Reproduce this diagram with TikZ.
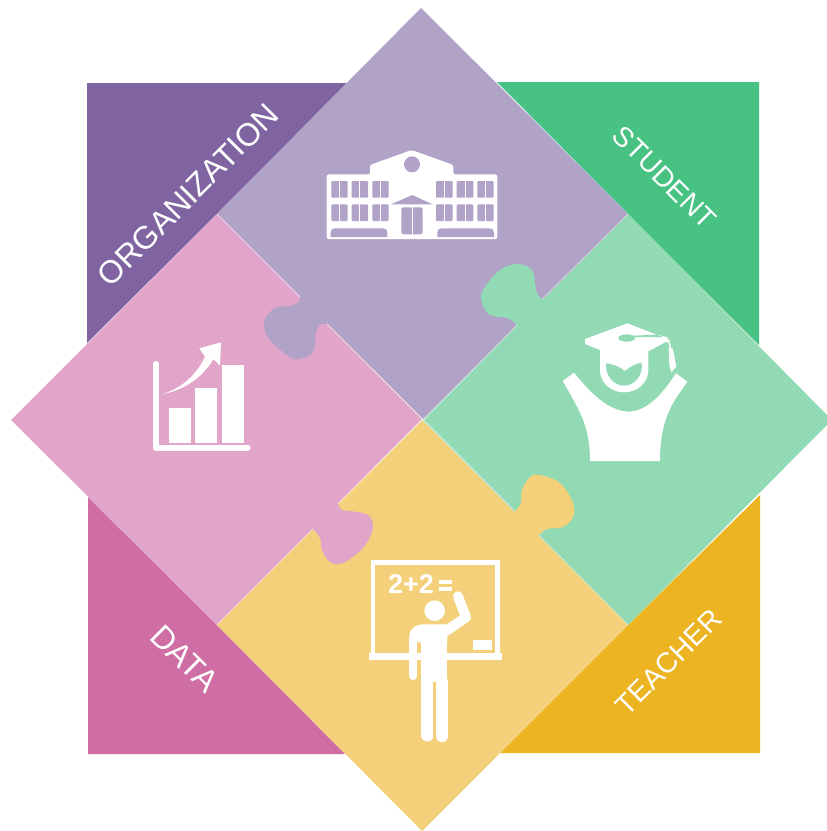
\documentclass[tikz,border=0pt]{standalone}
\usepackage{fontspec}
\setmainfont{Liberation Sans}
\definecolor{orgD}{HTML}{8064A2}
\definecolor{orgL}{HTML}{B1A2C8}
\definecolor{stuD}{HTML}{47C283}
\definecolor{stuL}{HTML}{91DAB4}
\definecolor{datD}{HTML}{CF6EA4}
\definecolor{datL}{HTML}{E0A5C8}
\definecolor{teaD}{HTML}{EDB421}
\definecolor{teaL}{HTML}{F4D07A}
\tikzset{
  lab/.style={text=white,inner sep=0pt},
  seam/.style={draw=white,line width=0.4pt,opacity=0.6},
  zoomed/.style={x=0.33333pt,y=-0.33333pt},
}
\begin{document}
\begin{tikzpicture}[x=1pt,y=-1pt]
\clip (0,0) rectangle (827,831);
\fill[white] (0,0) rectangle (827,831);
% corner triangles
\fill[orgD] (87,83) -- (347,83) -- (217,214) -- (87,343) -- cycle;
\fill[stuD] (497,82) -- (759,82) -- (759,345) -- (628,214) -- cycle;
\fill[teaD] (760,495) -- (760,753) -- (500,753) -- (628,625) -- cycle;
\fill[datD] (88,497) -- (217,625) -- (345,754) -- (88,754) -- cycle;
% puzzle diamonds
\fill[orgL] (421,8) -- (628,214) -- (423,419) -- (217,214) -- cycle;
\fill[datL] (217,214) -- (422,419) -- (217,625) -- (11,420) -- cycle;
\fill[stuL] (628,214) -- (832,420) -- (628,625) -- (423,420) -- cycle;
\fill[teaL] (422,420) -- (628,625) -- (422,831) -- (217,625) -- cycle;
% seams
\draw[seam] (217,214) -- (300,297) (327,324) -- (421,418);
\draw[seam] (628,214) -- (542,299) (517,325) -- (424,420);
\draw[seam] (424,420) -- (515,511) (539,535) -- (628,625);
\draw[seam] (422,420) -- (338,504) (313,529) -- (217,625);
% tabs, closed through a point inside the owning piece
\fill[orgL] plot[smooth,tension=0.6] coordinates {(300,297) (299,302) (290,306) (275,308) (264,322) (270,340) (290,357) (300,359) (313,352) (316,333) (320,325) (327,324)} -- (335,300) -- cycle;
\fill[stuL] plot[smooth,tension=0.6] coordinates {(542,299) (537,293) (535,283) (532,270) (518,264) (500,270) (483,290) (482,303) (490,315) (507,318) (517,325)} -- (540,330) -- cycle;
\fill[teaL] plot[smooth,tension=0.6] coordinates {(515,511) (521,503) (522,490) (530,477) (540,475) (560,483) (573,503) (573,517) (563,527) (547,529) (539,535)} -- (510,535) -- cycle;
\fill[datL] plot[smooth,tension=0.6] coordinates {(338,504) (342,510) (350,511) (368,515) (373,528) (363,548) (343,563) (330,562) (322,550) (320,538) (313,529)} -- (310,505) -- cycle;
% labels
\node[lab,rotate=45,font=\fontsize{32}{32}\selectfont] (lorg) at (188,195) {ORGANIZATION};
\node[lab,rotate=-45,font=\fontsize{28}{28}\selectfont] (lstu) at (664.5,177.5) {STUDENT};
\node[lab,rotate=-45,font=\fontsize{32}{32}\selectfont] (ldat) at (184,658) {\hspace{2pt}DATA};
\node[lab,rotate=45,font=\fontsize{28.5}{28.5}\selectfont] (ltea) at (668.5,662) {TEACHER};
% building icon
\begin{scope}[shift={(310,140)},zoomed]
\fill[white,rounded corners=1.5pt] (50,103) -- (180,103) -- (180,75) -- (305,30) -- (430,75) -- (430,103) -- (562,103) -- (562,297) -- (50,297) -- cycle;
\fill[orgL] (306,73) circle[radius=24];
\foreach \a/\b in {64/113,125/174,187/236,378/428,440/490,502/551}{
  \foreach \t/\u in {123/173,193/243}{
    \fill[orgL,rounded corners=1pt] (\a,\t) rectangle (\b,\u);
    \draw[white,line width=0.7pt] ({(\a+\b)/2},\t) -- ({(\a+\b)/2},\u);
  }
}
\fill[orgL] (243,193) -- (307,165) -- (368,193) -- cycle;
\fill[orgL,rounded corners=2pt] (274,283) -- (274,202) -- (338,202) -- (338,283) -- cycle;
\draw[white,line width=0.7pt] (306,202) -- (306,283);
\fill[orgL] (62,291) -- (62,277) .. controls (62,268) and (68,265) .. (75,265) -- (220,265) .. controls (228,265) and (232,270) .. (232,278) -- (232,291) -- cycle;
\fill[orgL] (382,291) -- (382,277) .. controls (382,268) and (388,265) .. (395,265) -- (540,265) .. controls (548,265) and (552,270) .. (552,278) -- (552,291) -- cycle;
\end{scope}
% graduate icon
\begin{scope}[shift={(550,315)},zoomed]
\fill[white] (105,72) -- (232,25) -- (320,59) -- (350,66) -- (360,80) -- (345,82) -- (295,109) -- (295,165) .. controls (295,205) and (260,232) .. (222,232) .. controls (185,232) and (150,205) .. (150,165) -- (150,105) -- (105,87) -- cycle;
\fill[stuL] (230,69) ellipse[x radius=25,y radius=11];
\fill[stuL] (250,62) -- (320,59) -- (340,66) -- (250,66) -- cycle;
\fill[stuL] (168,145) .. controls (195,148) and (212,158) .. (225,168) .. controls (240,155) and (255,147) .. (275,143) .. controls (280,180) and (255,212) .. (222,212) .. controls (190,212) and (165,180) .. (168,145) -- cycle;
\draw[white,line width=1.4pt] (352,75) .. controls (358,80) and (360,90) .. (362,105);
\fill[white] (356,100) -- (368,100) -- (379,155) -- (364,172) -- (358,150) -- cycle;
\fill[white] (38,198) -- (72,173) .. controls (115,225) and (170,290) .. (240,290) .. controls (300,285) and (345,225) .. (378,175) -- (412,200) .. controls (375,255) and (330,300) .. (330,438) -- (120,438) .. controls (120,340) and (95,295) .. (38,198) -- cycle;
\end{scope}
% chart icon
\begin{scope}[shift={(145,335)},zoomed]
\draw[white,line width=6pt,line cap=round,line join=round] (33,87) -- (33,338) -- (308,338);
\fill[white] (72,218) rectangle (138,323);
\fill[white] (150,160) rectangle (216,323);
\fill[white] (232,90) rectangle (297,323);
\fill[white] (50,178) .. controls (110,160) and (155,120) .. (180,65) -- (163,40) -- (228,22) -- (225,92) -- (205,72) .. controls (175,125) and (120,165) .. (50,178) -- cycle;
\end{scope}
% teacher icon
\begin{scope}[shift={(360,555)},zoomed]
\draw[white,line width=4.5pt] (39,296) -- (39,22) -- (413,22) -- (413,296);
\fill[white] (27,293) rectangle (427,315);
\fill[white] (339,255) rectangle (396,285);
\node[text=white,inner sep=0pt,anchor=west,font=\fontsize{27}{27}\selectfont\bfseries] (sum) at (84,88) {2+2};
\fill[white] (237,76) rectangle (275,88);
\fill[white] (237,96) rectangle (275,108);
\fill[white] (224,167) circle[radius=31];
\fill[white] (148,262) -- (148,245) .. controls (148,222) and (165,208) .. (190,208) -- (262,208) -- (262,262) -- cycle;
\fill[white] (182,255) rectangle (262,385);
\draw[white,line width=8pt,line cap=round] (160,250) -- (160,363);
\draw[white,line width=10pt,line cap=round,line join=round] (258,228) -- (318,187) -- (294,124);
\draw[white,line width=12.4pt,line cap=round] (202,380) -- (202,541);
\draw[white,line width=12.4pt,line cap=round] (246,380) -- (246,543);
\draw[teaL,line width=2.6pt] (224,380) -- (224,560);
\end{scope}
\end{tikzpicture}
\end{document}
